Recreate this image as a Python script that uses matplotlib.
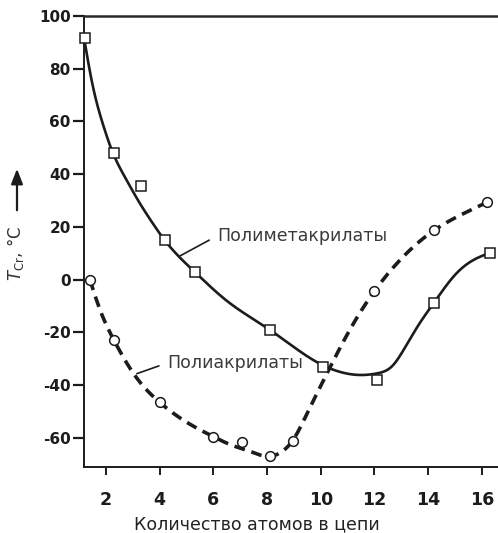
import numpy as np
import matplotlib
matplotlib.use("Agg")
import matplotlib.pyplot as plt
from matplotlib.patches import FancyArrowPatch

plt.rcParams['font.family'] = ['DejaVu Sans']

# Measured glass-transition temperatures vs. number of atoms in the side chain
pma_x = [1.2, 2.3, 3.3, 4.2, 5.3, 8.1, 10.1, 12.1, 14.2, 16.3]
pma_y = [91.5, 48, 35.4, 15, 3, -19, -33, -38, -9, 10]

pa_x = [1.4, 2.3, 4.0, 6.0, 7.05, 8.1, 8.95, 12.0, 14.2, 16.2]
pa_y = [0, -23, -46.5, -59.5, -61.6, -67, -61, -4.3, 19, 29.4]

# Knots of the hand-drawn trend curves
pma_curve_x = [1.21, 1.39, 1.58, 1.89, 2.26, 2.7, 3.2, 3.7, 4.2, 5.3, 6.5, 8.1, 10.05,
               10.7, 11.4, 12.1, 12.7, 13.0, 13.6, 14.2, 15.05, 15.8, 16.25]
pma_curve_y = [90, 79.5, 70.2, 58.8, 48, 39, 30, 22, 14.8, 3, -8, -19, -32.3,
               -34.9, -36.1, -35.5, -32.3, -28, -17.8, -8.9, 2.4, 8.1, 10]

pa_curve_x = [1.4, 1.78, 2.3, 3.02, 4.0, 5.0, 6.0, 6.7, 7.4, 8.1, 8.5,
              8.95, 9.5, 10.28, 11.08, 12.0, 13.0, 14.2, 15.2, 16.2]
pa_curve_y = [0, -11.5, -23, -35.5, -46.5, -54, -59.5, -62.8, -65.2, -67, -65.5,
              -61, -50.5, -34.5, -19, -4.3, 8, 18.6, 24.5, 29.4]

x_ticks = [2, 4, 6, 8, 10, 12, 14, 16]
y_ticks = [-60, -40, -20, 0, 20, 40, 60, 80, 100]

label_pma = "Полиметакрилаты"
label_pa = "Полиакрилаты"
x_label = "Количество атомов в цепи"


def natural_spline(xs, ys, n=600):
    """Natural cubic spline y(x) through the given knots."""
    x = np.asarray(xs, float)
    y = np.asarray(ys, float)
    k = len(x)
    h = np.diff(x)
    A = np.zeros((k, k))
    r = np.zeros(k)
    A[0, 0] = A[-1, -1] = 1.0
    for i in range(1, k - 1):
        A[i, i - 1] = h[i - 1]
        A[i, i] = 2 * (h[i - 1] + h[i])
        A[i, i + 1] = h[i]
        r[i] = 6 * ((y[i + 1] - y[i]) / h[i] - (y[i] - y[i - 1]) / h[i - 1])
    m = np.linalg.solve(A, r)
    xx = np.linspace(x[0], x[-1], n)
    idx = np.clip(np.searchsorted(x, xx) - 1, 0, k - 2)
    x0, x1 = x[idx], x[idx + 1]
    hh = x1 - x0
    a = (x1 - xx) / hh
    b = (xx - x0) / hh
    yy = (a * y[idx] + b * y[idx + 1]
          + ((a ** 3 - a) * m[idx] + (b ** 3 - b) * m[idx + 1]) * hh ** 2 / 6)
    return xx, yy


ink = "#1c1c1c"
W, H = 498, 533
fig = plt.figure(figsize=(W / 100, H / 100), dpi=100)
ax = fig.add_axes([84 / W, 1 - 467 / H, 1 - 84 / W, (467 - 16) / H])

ax.set_xlim(1.18, 16.6)
ax.set_ylim(-71, 100)

cx, cy = natural_spline(pma_curve_x, pma_curve_y)
ax.plot(cx, cy, color=ink, lw=1.9, solid_capstyle='round', zorder=2)
dx, dy = natural_spline(pa_curve_x, pa_curve_y)
ax.plot(dx, dy, color=ink, lw=2.6, dashes=(3.0, 1.9), zorder=2)

ax.plot(pma_x, pma_y, ls='none', marker='s', ms=6.5, mfc='white',
        mec=ink, mew=1.1, zorder=3, clip_on=False)
ax.plot(pa_x, pa_y, ls='none', marker='o', ms=7, mfc='white',
        mec=ink, mew=1.1, zorder=3, clip_on=False)

# Leader lines and curve labels
ax.annotate(label_pma, xy=(4.75, 9.0), xytext=(6.13, 16.6),
            fontsize=12.5, color="#3a3a3a", va='center', ha='left',
            arrowprops=dict(arrowstyle='-', color=ink, lw=1.2, relpos=(0, 0.5),
                            shrinkA=4, shrinkB=0))
ax.annotate(label_pa, xy=(3.15, -35.6), xytext=(4.27, -31.6),
            fontsize=12.5, color="#3a3a3a", va='center', ha='left',
            arrowprops=dict(arrowstyle='-', color=ink, lw=1.2, relpos=(0, 0.5),
                            shrinkA=4, shrinkB=0))

ax.set_xticks(x_ticks)
ax.set_yticks(y_ticks)
ax.set_xticklabels([str(v) for v in x_ticks], fontweight='bold', fontsize=12.5, color=ink)
ax.set_yticklabels([str(v) for v in y_ticks], fontweight='bold', fontsize=11, color=ink)
ax.tick_params(axis='x', direction='out', length=6, width=1.4, pad=11, colors=ink)
ax.tick_params(axis='y', direction='out', length=8, width=1.6, pad=1.5, colors=ink)

for side in ('left', 'bottom'):
    ax.spines[side].set_linewidth(1.4)
    ax.spines[side].set_color(ink)
ax.spines['top'].set_linewidth(1.8)
ax.spines['top'].set_color("#2a2a2a")
ax.spines['right'].set_visible(False)

fig.text(257 / W, 1 - 524 / H, x_label, ha='center', va='center',
         fontsize=12.5, color="#222222")

# Axis title with upward arrow
fig.text(15 / W, 1 - 253 / H, r"$\it{T}_{\rm Cr}$, °C", rotation=90,
         ha='center', va='center', fontsize=12, color="#333333")
fig.add_artist(FancyArrowPatch(
    (17 / W, 1 - 213 / H), (17 / W, 1 - 166 / H), transform=fig.transFigure,
    arrowstyle='-|>,head_length=9,head_width=3.5', color=ink, lw=1.6,
    mutation_scale=1))

fig.savefig("out.png", dpi=100)
